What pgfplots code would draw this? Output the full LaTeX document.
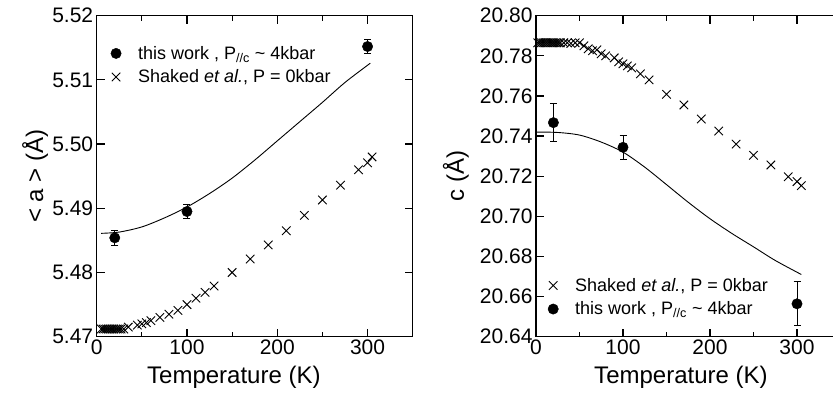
\documentclass[border=0pt]{standalone}
\usepackage{fontspec}
\setmainfont{Liberation Sans}
\usepackage{pgfplots}
\pgfplotsset{compat=1.18}
\newcommand{\lf}{\fontsize{18}{18}\selectfont}
\begin{document}
\begin{tikzpicture}
\pgfplotsset{
  myaxis/.style={
    scale only axis,
    height=321pt,
    xmin=0, xmax=350,
    xtick={0,100,200,300},
    minor xtick={50,150,250,350},
    tick align=inside,
    major tick length=8pt,
    minor tick length=5pt,
    axis line style={line width=1.3pt},
    every tick/.style={line width=1.2pt, black},
    tick label style={font=\fontsize{21}{21}\selectfont},
    label style={font=\fontsize{24}{24}\selectfont},
    /pgf/number format/assume math mode=true,
    yticklabel style={/pgf/number format/.cd, fixed, fixed zerofill, precision=2},
    scaled y ticks=false,
    xlabel={Temperature (K)},
    legend cell align=left,
    legend image code/.code={\path[draw=none] (-10pt,-1pt) rectangle (20pt,1pt); \draw[#1] plot coordinates {(0pt,0pt)};},
    legend style={draw=none, fill=none, inner sep=0pt,
      nodes={inner sep=2pt},
      row sep=5pt, anchor=north west},
  },
  dot/.style={only marks, mark=*, mark size=5.2pt, black,
    error bars/.cd, y dir=both, y explicit,
    error bar style={line width=0.9pt, black},
    error mark options={rotate=90, mark size=3.5pt, line width=0.9pt, black}},
  cross/.style={only marks, mark=x, mark size=6pt, black, mark options={line width=0.9pt}},
  fit/.style={black, line width=0.9pt, smooth, no marks},
}
% ---------------- left panel ----------------
\begin{axis}[myaxis,
  at={(96.7pt,57.3pt)}, anchor=south west,
  width=316pt,
  ymin=5.47, ymax=5.52,
  ytick={5.47,5.48,5.49,5.50,5.51,5.52},
  ylabel={< a > (Å)},
  ylabel style={at={(axis description cs:-0.195,0.5)}, anchor=center},
  xlabel style={at={(axis description cs:0.434,-0.125)}, anchor=center},
  legend style={at={(axis description cs:0.029,0.912)}},
]
\addplot[dot] coordinates {
  (20,5.4854) +- (0,0.0012)
  (100,5.4895) +- (0,0.0011)
  (300,5.5152) +- (0,0.0011)
};
\addlegendentry{\lf this work , P\textsubscript{//c} \textasciitilde{} 4kbar}
\addplot[cross] coordinates {
  (5,5.4712) (7,5.4712) (9,5.4712) (11,5.4712) (13,5.4712) (15,5.4712)
  (17,5.4712) (19,5.4712) (21,5.4712) (23,5.4712) (25,5.4712) (27,5.4712)
  (30,5.4712) (35,5.4715) (45,5.4718) (50,5.4720) (55,5.4722) (60,5.4725)
  (70,5.4730) (80,5.4735) (90,5.4741) (100,5.4750) (110,5.4760) (120,5.4769)
  (130,5.4779) (150,5.4800) (170,5.4821) (190,5.4843) (210,5.4865)
  (230,5.4889) (250,5.4913) (270,5.4936) (290,5.4960) (300,5.4971) (305,5.4980)
};
\addlegendentry{\lf Shaked \textit{et al.}, P = 0kbar}
\addplot[fit, forget plot] coordinates {
  (5,5.4861) (25,5.4863) (50,5.4871) (75,5.4885) (100,5.4902) (125,5.4923)
  (150,5.4947) (175,5.4975) (200,5.5005) (225,5.5035) (250,5.5065)
  (275,5.5096) (303,5.5126)
};
\end{axis}
% ---------------- right panel ----------------
\begin{axis}[myaxis,
  at={(536pt,57.3pt)}, anchor=south west,
  width=304.5pt,
  ymin=20.64, ymax=20.80,
  ytick={20.64,20.66,20.68,20.70,20.72,20.74,20.76,20.78,20.80},
  ylabel={c (Å)},
  ylabel style={at={(axis description cs:-0.263,0.5)}, anchor=center},
  xlabel style={at={(axis description cs:0.476,-0.125)}, anchor=center},
  legend style={at={(axis description cs:0.023,0.189)}},
]
\addplot[cross] coordinates {
  (2,20.7865) (4,20.7865) (6,20.7865) (8,20.7865) (10,20.7865) (12,20.7865)
  (14,20.7865) (16,20.7865) (18,20.7865) (20,20.7865) (22,20.7865) (24,20.7865)
  (26,20.7865) (28,20.7865) (32,20.7865) (36,20.7865) (40,20.7862) (45,20.7865)
  (50,20.7865) (55,20.7850) (60,20.7835) (65,20.7825) (70,20.7830) (75,20.7810)
  (80,20.7800) (90,20.7790) (95,20.7770) (100,20.7760) (105,20.7750)
  (110,20.7740) (120,20.7710) (130,20.7680) (150,20.7608) (170,20.7555)
  (190,20.7485) (210,20.7425) (230,20.7360) (250,20.7304) (270,20.7256)
  (290,20.7197) (300,20.7173) (305,20.7153)
};
\addlegendentry{\lf Shaked \textit{et al.}, P = 0kbar}
\addplot[fit, forget plot] coordinates {
  (0,20.7420) (25,20.7418) (50,20.7405) (75,20.7370) (100,20.7320)
  (125,20.7245) (150,20.7158) (175,20.7070) (200,20.6988) (225,20.6915)
  (250,20.6848) (275,20.6780) (305,20.6710)
};
\addplot[dot] coordinates {
  (20,20.7467) +- (0,0.0095)
  (100,20.7344) +- (0,0.0060)
  (300,20.6564) +- (0,0.0110)
};
\addlegendentry{\lf this work , P\textsubscript{//c} \textasciitilde{} 4kbar}
\end{axis}
\pgfresetboundingbox
\path[use as bounding box] (0,0) rectangle (833pt,394pt);
\end{tikzpicture}
\end{document}
